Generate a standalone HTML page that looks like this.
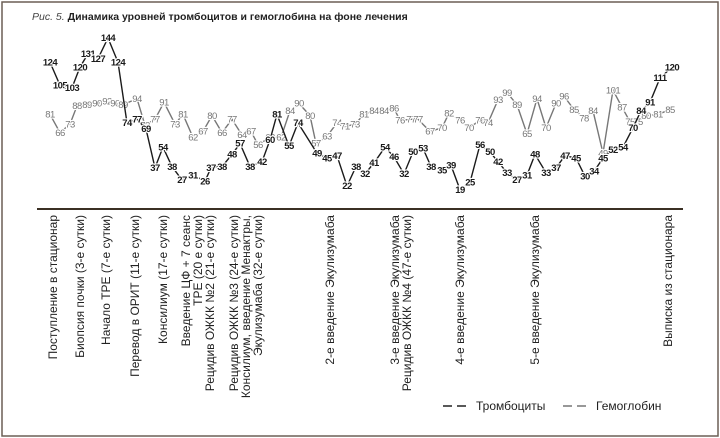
<!DOCTYPE html>
<html><head><meta charset="utf-8">
<style>
body{margin:0;background:#fff;}
svg{display:block;font-family:"Liberation Sans",sans-serif;}
</style></head>
<body>
<svg id="chart" width="720" height="438" viewBox="0 0 720 438">
<rect x="2" y="2" width="716" height="434" fill="#fff" stroke="#6b5f55" stroke-width="1.5"/>
<text x="32" y="20" font-size="10.5" fill="#222"><tspan font-style="italic" fill="#444">Рис. 5.</tspan><tspan font-weight="bold"> Динамика уровней тромбоцитов и гемоглобина на фоне лечения</tspan></text>
<line x1="37" y1="209" x2="683" y2="209" stroke="#3b3024" stroke-width="2"/>
<g id="series"></g>
<g id="events"></g>
<g>
<g>
<line x1="443" y1="406" x2="470" y2="406" stroke="#222" stroke-width="1.5" stroke-dasharray="9,5"/>
<text x="476" y="410" font-size="12" fill="#222">Тромбоциты</text></g>
<g>
<line x1="563" y1="406" x2="590" y2="406" stroke="#777" stroke-width="1.5" stroke-dasharray="9,5"/>
<text x="596" y="410" font-size="12" fill="#222">Гемоглобин</text></g>
</g>
</svg>
<script>
const pltDays=[0,1.0,2.2,3.0,3.8,4.8,5.8,6.8,7.7,8.7,9.6,10.5,11.3,12.2,13.2,14.3,15.5,16.1,17.2,18.2,19.0,20.0,21.2,22.0,22.7,23.9,24.8,26.7,27.7,28.7,29.7,30.6,31.5,32.4,33.5,34.4,35.4,36.3,37.3,38.1,39.2,40.1,41.0,42.0,43.0,44.0,44.8,45.7,46.7,47.7,48.5,49.6,50.6,51.5,52.6,53.5,54.4,55.3,56.3,57.3,58.3,59.1,60.0,61.0,62.2];
const pltVals=[124,105,103,120,131,127,144,124,74,77,69,37,54,38,27,31,26,37,38,48,57,38,42,60,81,55,74,49,45,47,22,38,32,41,54,46,32,50,53,38,35,39,19,25,56,50,42,33,27,31,48,33,37,47,45,30,34,45,52,54,70,84,91,111,120];
const hbDays=[0,1.0,2.0,2.7,3.7,4.7,5.7,6.5,7.3,8.7,9.5,10.5,11.4,12.5,13.3,14.3,15.3,16.2,17.2,18.2,19.2,20.1,20.8,22.0,23.1,24.0,24.9,26.0,26.6,27.7,28.7,29.5,30.5,31.4,32.4,33.4,34.4,35.0,36.1,36.8,38.0,39.2,39.9,41.0,41.9,43.0,43.8,44.8,45.7,46.7,47.7,48.7,49.6,50.6,51.4,52.4,53.4,54.3,55.3,56.3,57.2,58.0,58.8,59.6,60.8,62.0];
const hbVals=[81,66,73,88,89,90,92,90,89,94,72,77,91,73,81,62,67,80,66,77,64,67,56,62,62,84,90,80,57,63,74,71,73,81,84,84,86,76,77,77,67,70,82,76,70,76,74,93,99,89,65,94,70,90,96,85,78,84,49,101,87,75,75,80,81,85];
const eventDays=[0.3,3.0,5.6,8.5,11.3,13.6,16.0,18.1,32.4,38.6,40.6,46.4,52.8];
const eventLines=[["Поступление в стационар"],["Биопсия почки (3-е сутки)"],["Начало ТРЕ (7-е сутки)"],["Перевод в ОРИТ (11-е сутки)"],["Консилиум (17-е сутки)"],["Введение ЦФ + 7 сеанс","ТРЕ (20 е сутки)"],["Рецидив ОЖКК №2 (21-е сутки)"],["Рецидив ОЖКК №3 (24-е сутки)","Консилиум, введение Менактры,","Экулизумаба (32-е сутки)"],["2-е введение Экулизумаба"],["3-е введение Экулизумаба","Рецидив ОЖКК №4 (47-е сутки)"],["4-е введение Экулизумаба"],["5-е введение Экулизумаба"],["Выписка из стационара"]];
const eventX=[53,80,106,135,163,192,210,246,330,401,460,535,668];

const NS="http://www.w3.org/2000/svg";
function xs(d){return 50+d*10;}
function ys(v){return 38+(144-v)*1.213;}
function mk(t,a){const e=document.createElementNS(NS,t);for(const k in a)e.setAttribute(k,a[k]);return e;}
const g=document.getElementById('series');
function drawSeries(days,vals,color,name){
  const grp=mk('g',{});
  
  
  const pts=days.map((d,i)=>xs(d)+','+ys(vals[i])).join(' ');
  const pl=mk('polyline',{points:pts,fill:'none',stroke:color,'stroke-width':1.4});
  
  
  grp.appendChild(pl);
  g.appendChild(grp);
  return grp;
}
function drawLabels(grp,days,vals,color,weight,name){
  days.forEach((d,i)=>{
    const t=mk('text',{x:xs(d),y:ys(vals[i])+3.2,'text-anchor':'middle','font-size':9.5,fill:color,'font-weight':weight,stroke:'#fff','stroke-width':2.2,'paint-order':'stroke','letter-spacing':'-0.5'});
    t.textContent=vals[i];
    
    
    grp.appendChild(t);
  });
}
const gh=drawSeries(hbDays,hbVals,'#777','hemoglobin');
const gp=drawSeries(pltDays,pltVals,'#1a1a1a','platelets');
drawLabels(gh,hbDays,hbVals,'#777','normal','hemoglobin');
drawLabels(gp,pltDays,pltVals,'#1a1a1a','bold','platelets');
const ev=document.getElementById('events');
eventLines.forEach((lines,i)=>{
  const cx=eventX[i];
  const n=lines.length;
  lines.forEach((s,j)=>{
    const x=cx+(j-(n-1)/2)*12+4;
    const t=mk('text',{x:0,y:0,transform:'translate('+x+',215) rotate(-90)','text-anchor':'end','font-size':12,fill:'#222'});
    t.textContent=s;
    
    
    ev.appendChild(t);
  });
});
</script>
</body></html>
